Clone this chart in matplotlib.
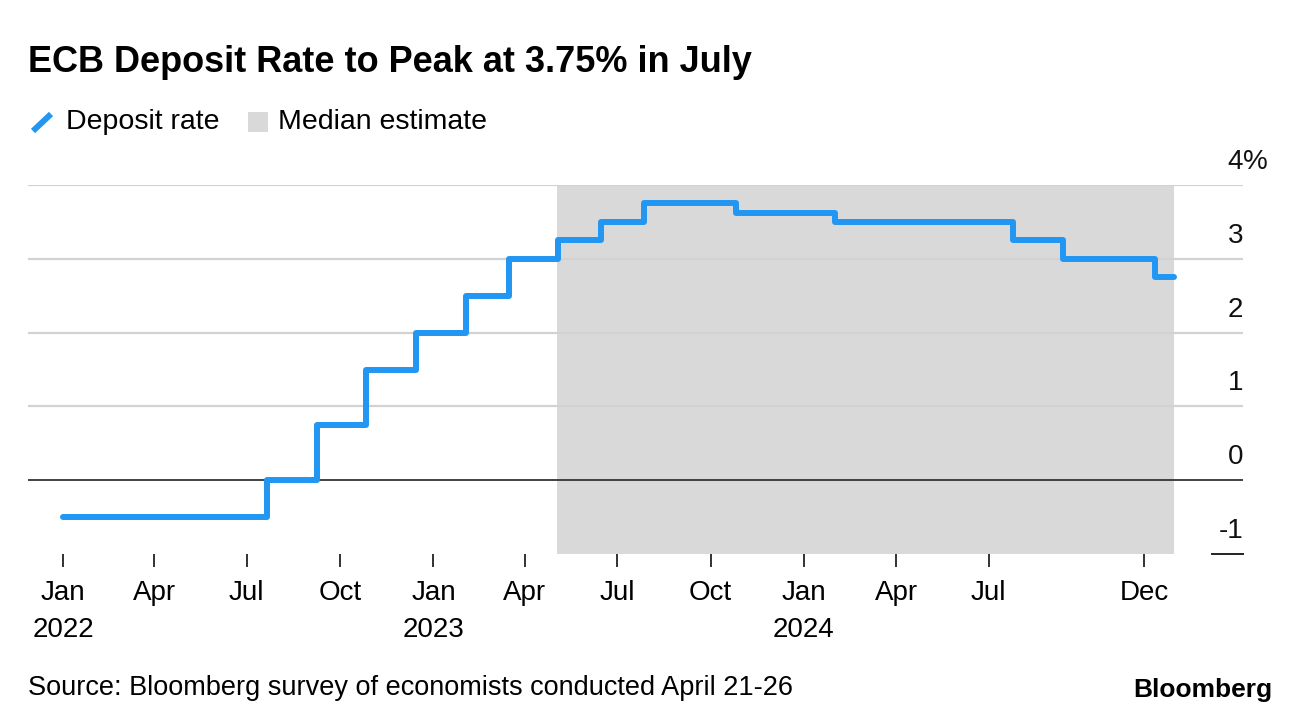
import matplotlib
matplotlib.use("Agg")
import matplotlib.pyplot as plt
import matplotlib.transforms as mtransforms
from matplotlib.lines import Line2D
from matplotlib.patches import Rectangle
from datetime import datetime, timedelta

plt.rcParams['font.family'] = ['Liberation Sans', 'DejaVu Sans']

# step dates (policy changes) and deposit rate after each change
step_dates = ['2022-01-01', '2022-07-21', '2022-09-08', '2022-10-27', '2022-12-15',
              '2023-02-02', '2023-03-16', '2023-05-04', '2023-06-15', '2023-07-27',
              '2023-10-26', '2024-02-01', '2024-07-25', '2024-09-12', '2024-12-12',
              '2024-12-31']
deposit_rate = [-0.5, 0.0, 0.75, 1.5, 2.0,
                2.5, 3.0, 3.25, 3.5, 3.75,
                3.625, 3.5, 3.25, 3.0, 2.75,
                2.75]

# median estimate window
estimate_start = '2023-05-04'
estimate_end = '2024-12-31'

tick_dates = ['2022-01-01', '2022-04-01', '2022-07-01', '2022-10-01',
              '2023-01-01', '2023-04-01', '2023-07-01', '2023-10-01',
              '2024-01-01', '2024-04-01', '2024-07-01', '2024-12-01']
tick_labels = ['Jan\n2022', 'Apr', 'Jul', 'Oct',
               'Jan\n2023', 'Apr', 'Jul', 'Oct',
               'Jan\n2024', 'Apr', 'Jul', 'Dec']
y_values = [-1, 0, 1, 2, 3, 4]

BLUE = '#2196f3'
SHADE = '#d9d9d9'
GRID = '#d2d2d2'

W, H = 1296, 724
fig = plt.figure(figsize=(W / 100, H / 100), dpi=100)

# axes box in pixels
left_px, right_px, top_px, bottom_px = 28, 1243, 185, 554
ax = fig.add_axes([left_px / W, 1 - bottom_px / H,
                   (right_px - left_px) / W, (bottom_px - top_px) / H])

to_dt = lambda s: datetime.strptime(s, '%Y-%m-%d')
dates = [to_dt(d) for d in step_dates]

# shaded estimate region
ax.axvspan(to_dt(estimate_start) - timedelta(days=1.5), to_dt(estimate_end),
           color=SHADE, lw=0, zorder=0)

# gridlines
for v in y_values:
    if v > 0:
        ax.axhline(v, color=GRID, lw=1.6, zorder=1)
ax.axhline(0, color='#333333', lw=1.3, zorder=2)
ax.axhline(-1, xmin=0.9745, xmax=1.0, color='#222222', lw=1.4, zorder=2, clip_on=False)

ax.step(dates, deposit_rate, where='post', color=BLUE, lw=4.3,
        solid_capstyle='round', solid_joinstyle='round', zorder=3)

# x limits from pixel layout: Jan 1 2022 at x=63, ~1.015 px/day
base = to_dt('2022-01-01')
ax.set_xlim(base - timedelta(days=(63 - left_px) / 1.015),
            base + timedelta(days=(right_px - 63) / 1.015))
ax.set_ylim(-1, 4)

ax.set_xticks([to_dt(d) for d in tick_dates])
ax.set_xticklabels(tick_labels, fontsize=20, linespacing=1.55)
ax.tick_params(axis='x', length=9, width=1.3, color='#222222', pad=10)
ax.set_yticks([])
for s in ax.spines.values():
    s.set_visible(False)

# y labels above the gridlines on the right
off = mtransforms.offset_copy(ax.get_yaxis_transform(), fig=fig, x=0, y=16, units='dots')
for v in y_values:
    ax.text(1.0, v, str(v), transform=off, ha='right', va='baseline',
            fontsize=20, color='#111111')
ax.text(1.0, 4, '%', transform=off, ha='left', va='baseline', fontsize=20, color='#111111')

# title
fig.text(28 / W, 1 - 62 / H, 'ECB Deposit Rate to Peak at 3.75% in July',
         fontsize=26, fontweight='bold', va='center', ha='left')

# legend
fig.add_artist(Line2D([33 / W, 51 / W], [1 - 131 / H, 1 - 114 / H],
                      color=BLUE, lw=4.3, solid_capstyle='butt'))
fig.text(66 / W, 1 - 122 / H, 'Deposit rate', fontsize=20.5, va='center', ha='left')
fig.add_artist(Rectangle((248 / W, 1 - 132 / H), 20 / W, 20 / H,
                         transform=fig.transFigure, color=SHADE, lw=0))
fig.text(278 / W, 1 - 122 / H, 'Median estimate', fontsize=20.5, va='center', ha='left')

# footer
fig.text(28 / W, 1 - 688 / H, 'Source: Bloomberg survey of economists conducted April 21-26',
         fontsize=19.5, va='center', ha='left')
fig.text(1272 / W, 1 - 690 / H, 'Bloomberg', fontsize=19, fontweight='bold',
         va='center', ha='right')

fig.savefig('out.png', dpi=100)
